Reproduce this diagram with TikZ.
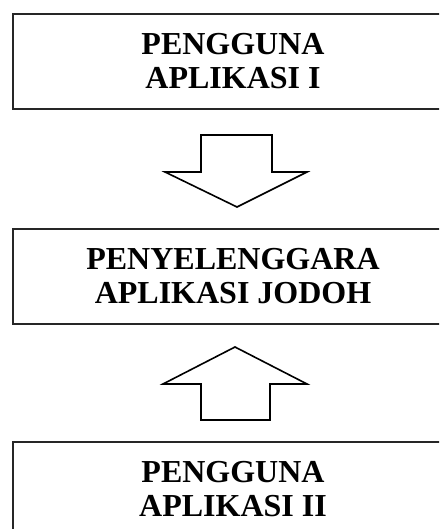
\documentclass[tikz,border=0pt]{standalone}
\usepackage{fontspec}
\setmainfont{Liberation Serif}
\begin{document}
\begin{tikzpicture}[x=1pt,y=1pt,
  boxstyle/.style={draw=black!85, line width=1.5pt, minimum width=440pt, minimum height=95pt,
    align=center, inner sep=0pt, font=\bfseries\fontsize{32}{34}\selectfont},
  blockarrow/.style={draw=black, line width=1.6pt, line join=miter, fill=white}]
\useasboundingbox (0,0) rectangle (439,529);
\clip (0,0) rectangle (439,529);
\node[boxstyle] (user1) at (233,467.5) {PENGGUNA\\APLIKASI I};
\node[boxstyle] (provider) at (233,252.5) {PENYELENGGARA\\APLIKASI JODOH};
\node[boxstyle] (user2) at (233,39.5) {PENGGUNA\\APLIKASI II};
% down arrow
\draw[blockarrow] (201,394) -- (272,394) -- (272,357) -- (307,357) -- (237,322)
  -- (165,357) -- (201,357) -- cycle;
% up arrow
\draw[blockarrow] (201,109) -- (270,109) -- (270,145) -- (307,145) -- (235,182)
  -- (163,145) -- (201,145) -- cycle;
\end{tikzpicture}
\end{document}
